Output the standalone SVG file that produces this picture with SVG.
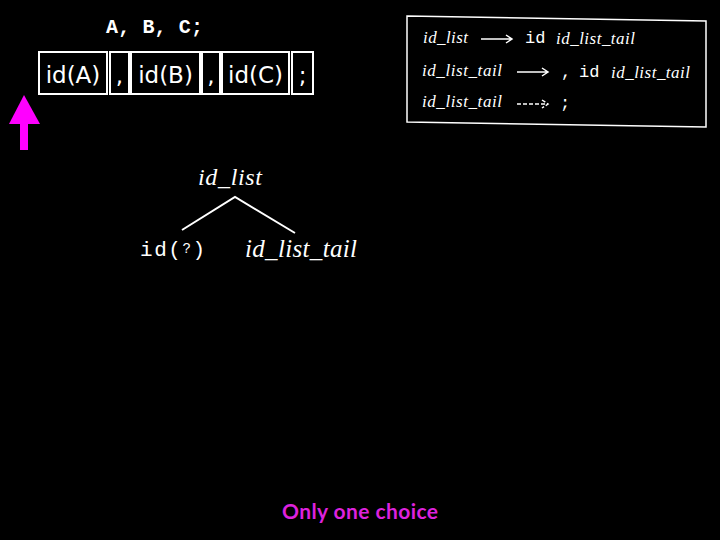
<svg xmlns="http://www.w3.org/2000/svg" width="720" height="540" viewBox="0 0 720 540">
<style>
.cell{fill:none;stroke:#fff;stroke-width:2}
.sans{font-family:"DejaVu Sans",Verdana,sans-serif;font-size:23px;fill:#fff}
.mono{font-family:"Liberation Mono","Courier New",monospace;fill:#fff}
.it{font-family:"Liberation Serif","Times New Roman",serif;font-style:italic;fill:#fff}
.ln{stroke:#fff;stroke-width:2;fill:none}
.ar{stroke:#fff;stroke-width:1.5;fill:none}
</style>
<rect width="720" height="540" fill="#000"/>
<g id="source">
<text class="mono" x="106" y="33" font-size="20" font-weight="bold" textLength="97">A, B, C;</text>
</g>
<g id="tokens">
<rect class="cell" x="39" y="52" width="68" height="42"/>
<rect class="cell" x="110" y="52" width="19" height="42"/>
<rect class="cell" x="131" y="52" width="69" height="42"/>
<rect class="cell" x="202" y="52" width="18" height="42"/>
<rect class="cell" x="222" y="52" width="67" height="42"/>
<rect class="cell" x="292" y="52" width="21" height="42"/>
<text class="sans" x="73" y="83" text-anchor="middle">id(A)</text>
<text class="sans" x="119.5" y="83" text-anchor="middle">,</text>
<text class="sans" x="165.5" y="83" text-anchor="middle">id(B)</text>
<text class="sans" x="211" y="83" text-anchor="middle">,</text>
<text class="sans" x="255.5" y="83" text-anchor="middle">id(C)</text>
<text class="sans" x="302.5" y="83" text-anchor="middle">;</text>
</g>
<g id="pointer">
<polygon points="24,95 9,124 40,124" fill="#ff00ff"/>
<rect x="20" y="123" width="8" height="27" fill="#ff00ff"/>
</g>
<g id="rules">
<polygon points="407,16 706,21 706,127 407,122" fill="none" stroke="#fff" stroke-width="1.5"/>
<text class="it" x="423" y="43" font-size="17" textLength="45">id_list</text>
<text class="mono" x="525" y="43" font-size="17">id</text>
<text class="it" x="556" y="44" font-size="17" textLength="79">id_list_tail</text>
<text class="it" x="422" y="76" font-size="17" textLength="80">id_list_tail</text>
<text class="mono" x="561" y="77" font-size="17">,</text>
<text class="mono" x="579" y="77" font-size="17">id</text>
<text class="it" x="611" y="78" font-size="17" textLength="79">id_list_tail</text>
<text class="it" x="422" y="107" font-size="17" textLength="80">id_list_tail</text>
<text class="mono" x="560" y="108" font-size="17">;</text>
</g>
<g id="tree-root">
<text class="it" x="198" y="185" font-size="24" textLength="64">id_list</text>
</g>
<g id="tree-id">
<text class="mono" x="140" y="256" font-size="21" textLength="65">id(<tspan font-size="14" dy="-3">?</tspan><tspan dy="3">)</tspan></text>
</g>
<g id="tree-tail">
<text class="it" x="245" y="257" font-size="25" textLength="112">id_list_tail</text>
</g>
<g id="connectors">
<path class="ar" d="M481,39 H512 M506,35 L512,39 L506,43"/>
<path class="ar" d="M517,72 H548 M542,68 L548,72 L542,76"/>
<path class="ar" d="M517,104 H548 M542,100 L548,104 L542,108" stroke-dasharray="4 2"/>
<path class="ln" d="M182,230 L235,197 L295,233"/>
</g>
<g id="caption">
<text x="282" y="519" font-family="Lato,'Open Sans',sans-serif" font-weight="bold" font-size="21" fill="#dd22dd" textLength="156">Only one choice</text>
</g>
</svg>
